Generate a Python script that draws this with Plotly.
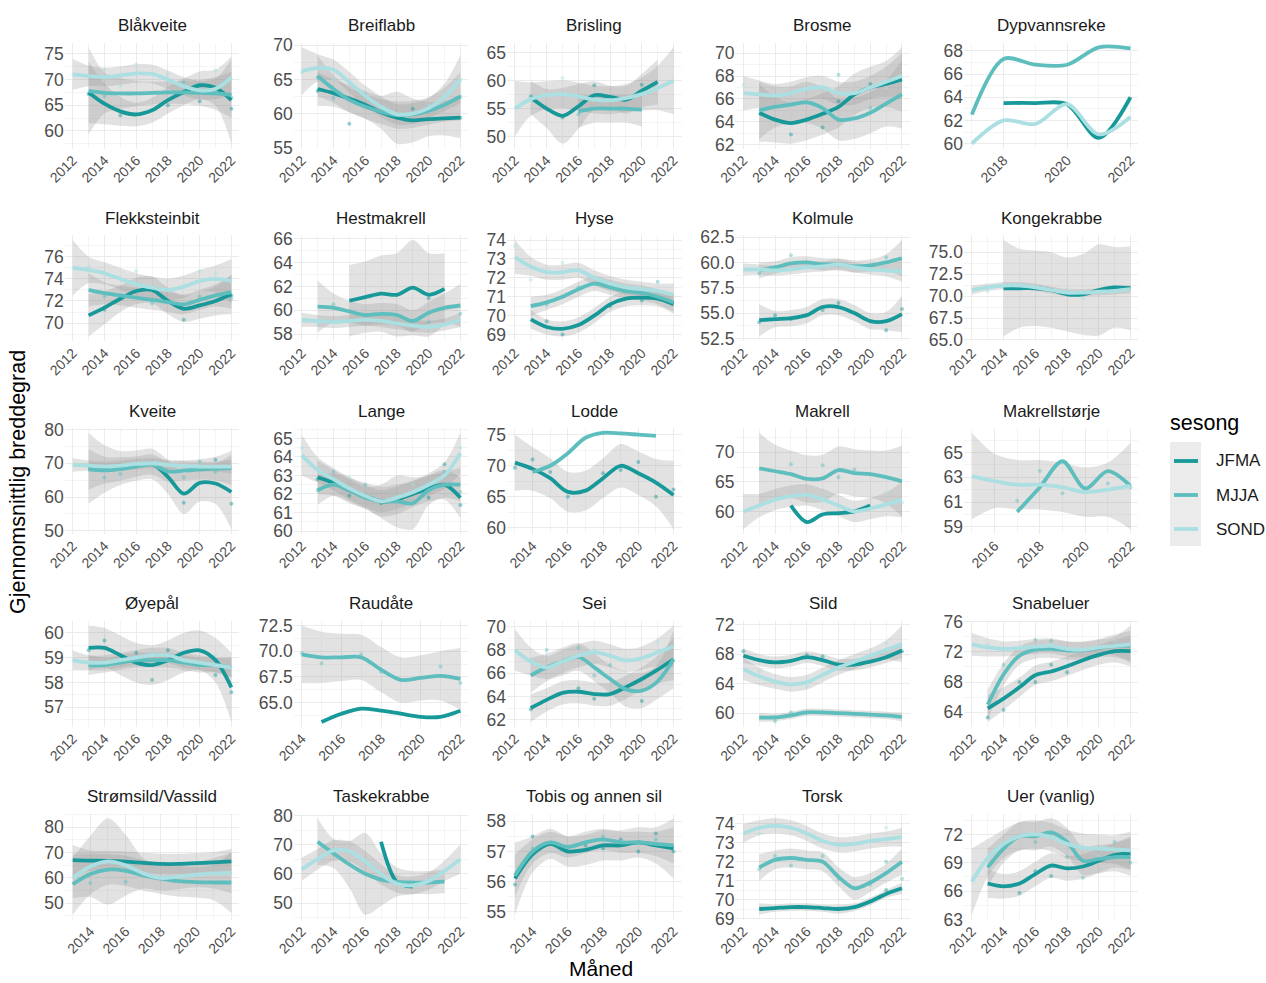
import plotly.graph_objects as go

N = None
YEARS = list(range(2012, 2023))
SEASONS = ["JFMA", "MJJA", "SOND"]
SEASON_COLORS = {"JFMA": "#17999a", "MJJA": "#5ebebe", "SOND": "#abdfe2"}

# ---- smoothed latitude (fit), half-width of confidence band (se) and yearly means (pts), 2012..2022 ----
blakveite_jfma = [N, 67.5, 65.3, 63.8, 63.2, 64.0, 66.0, 67.6, 68.9, 68.4, 66.0]
blakveite_jfma_se = [N, 6.0, 4.0, 2.8, 2.3, 2.4, 2.6, 2.6, 2.7, 3.5, 8.5]
blakveite_jfma_pts = [N, 67.2, N, 63.0, N, N, 65.0, N, 65.8, N, 64.3]
blakveite_mjja = [N, 67.8, 67.4, 67.3, 67.3, 67.4, 67.5, 67.5, 67.4, 67.3, 67.0]
blakveite_mjja_se = [N, 8.5, 4.0, 3.0, 2.5, 2.2, 2.2, 2.3, 2.5, 3.2, 4.5]
blakveite_mjja_pts = [N, N, 66.8, N, N, N, N, 69.5, N, 67.8, 66.5]
blakveite_sond = [71.0, 70.7, 70.5, 70.8, 71.2, 71.1, 70.0, 68.7, 67.9, 68.2, 70.4]
blakveite_sond_se = [3.0, 2.0, 1.8, 1.8, 1.8, 1.8, 1.8, 1.8, 1.8, 2.0, 3.5]
blakveite_sond_pts = [N, N, 72.0, 68.7, 73.0, N, 71.0, N, N, 71.8, N]

breiflabb_jfma = [N, 63.6, 63.0, 62.2, 61.3, 60.2, 59.4, 59.0, 59.2, 59.3, 59.4]
breiflabb_jfma_se = [N, 2.5, 2.0, 2.0, 2.0, 2.4, 3.8, 3.2, 2.5, 2.5, 3.0]
breiflabb_jfma_pts = [N, 63.3, N, 58.5, N, N, N, 60.7, N, N, 59.4]
breiflabb_mjja = [N, 65.5, 63.6, 62.0, 61.0, 60.3, 59.8, 59.9, 60.4, 61.3, 62.5]
breiflabb_mjja_se = [N, 3.0, 2.0, 1.8, 1.8, 1.8, 2.0, 2.0, 2.0, 2.5, 3.5]
breiflabb_mjja_pts = [N, 65.3, 62.3, N, 62.8, N, N, N, N, N, 62.5]
breiflabb_sond = [66.2, 66.7, 66.4, 64.6, 62.6, 61.0, 59.9, 60.0, 60.8, 62.4, 65.0]
breiflabb_sond_se = [3.5, 2.0, 1.5, 1.5, 1.5, 1.5, 1.5, 1.5, 1.5, 2.0, 3.5]
breiflabb_sond_pts = [66.0, N, 65.0, N, N, N, N, N, 61.3, 63.0, 65.0]

brisling_jfma = [N, 57.0, 55.0, 53.7, 55.4, 57.4, 57.1, 56.6, 58.2, 59.8, N]
brisling_jfma_se = [N, 3.0, 3.5, 5.0, 4.0, 2.5, 2.0, 2.5, 3.0, 4.0, N]
brisling_jfma_pts = [N, 57.2, N, 53.4, N, 59.2, N, N, 59.3, N, N]
brisling_mjja = [N, N, N, N, 54.5, 55.0, 55.0, 55.0, 54.8, N, N]
brisling_mjja_se = [N, N, N, N, 3.0, 2.5, 2.5, 2.5, 3.0, N, N]
brisling_mjja_pts = [N, N, N, N, 54.0, N, N, N, N, N, N]
brisling_sond = [55.0, 56.7, 57.4, 57.6, 57.2, 56.6, 56.5, 56.9, 57.6, 58.7, 60.0]
brisling_sond_se = [5.0, 3.0, 2.5, 2.5, 2.5, 2.5, 2.5, 2.5, 3.0, 4.0, 6.0]
brisling_sond_pts = [N, N, N, 60.5, N, N, N, N, N, N, N]

brosme_jfma = [N, 64.8, 64.2, 63.9, 64.2, 64.7, 65.3, 66.4, 67.0, 67.3, 67.7]
brosme_jfma_se = [N, 2.5, 2.0, 1.8, 1.8, 1.8, 1.8, 1.8, 1.8, 2.0, 2.8]
brosme_jfma_pts = [N, N, N, 62.9, N, 63.5, 65.8, N, 67.3, N, N]
brosme_mjja = [N, 65.0, 65.3, 65.5, 65.7, 65.2, 64.2, 64.3, 64.8, 65.6, 66.4]
brosme_mjja_se = [N, 2.5, 1.8, 1.6, 1.8, 1.8, 1.8, 1.8, 1.8, 2.0, 3.0]
brosme_mjja_pts = [N, N, N, N, N, N, 68.1, N, 65.2, N, N]
brosme_sond = [66.5, 66.4, 66.3, 66.5, 66.9, 67.0, 66.5, 66.5, 67.0, 67.5, 68.0]
brosme_sond_se = [1.5, 1.2, 1.0, 1.0, 1.0, 1.0, 1.0, 1.0, 1.0, 1.3, 2.0]
brosme_sond_pts = [67.2, N, N, N, N, N, N, N, N, 67.0, N]

dypvannsreke_jfma = [N, N, N, N, N, N, 63.5, 63.5, 63.4, 60.5, 64.0]
dypvannsreke_mjja = [N, N, N, N, N, 62.5, 67.3, 66.8, 66.8, 68.3, 68.2]
dypvannsreke_sond = [N, N, N, N, N, 60.0, 62.0, 61.7, 63.4, 60.8, 62.3]

flekksteinbit_jfma = [N, 70.7, 71.4, 72.2, 72.9, 73.0, 72.0, 71.3, 71.6, 72.0, 72.6]
flekksteinbit_jfma_se = [N, 1.9, 1.5, 1.2, 1.2, 1.2, 1.2, 1.2, 1.2, 1.3, 1.8]
flekksteinbit_jfma_pts = [N, N, 71.2, N, N, N, N, 70.3, N, N, 72.5]
flekksteinbit_mjja = [N, 73.0, 72.7, 72.5, 72.3, 72.1, 71.9, 71.7, 72.1, 72.5, 72.8]
flekksteinbit_mjja_se = [N, 1.5, 1.0, 0.9, 0.9, 0.9, 0.9, 0.9, 0.9, 1.0, 1.5]
flekksteinbit_mjja_pts = [N, N, 72.4, N, N, 71.8, N, N, 72.4, N, 72.2]
flekksteinbit_sond = [75.0, 74.8, 74.5, 74.0, 73.5, 73.2, 73.0, 73.3, 73.8, 74.0, 73.8]
flekksteinbit_sond_se = [2.5, 1.2, 1.0, 1.0, 1.0, 1.0, 1.0, 1.0, 1.0, 1.2, 2.0]
flekksteinbit_sond_pts = [N, 75.1, N, N, 74.7, N, N, N, 74.7, 74.5, N]

hestmakrell_jfma = [N, N, N, 60.8, 61.1, 61.4, 61.3, 61.9, 61.3, 61.8, N]
hestmakrell_jfma_se = [N, N, N, 3.0, 3.0, 3.2, 3.5, 4.0, 3.5, 3.0, N]
hestmakrell_jfma_pts = [N, N, N, N, N, N, N, N, 61.0, N, N]
hestmakrell_mjja = [N, 60.3, 60.2, 59.9, 59.6, 59.7, 59.6, 59.1, 59.8, 60.2, 60.4]
hestmakrell_mjja_se = [N, 2.2, 1.2, 0.9, 0.9, 0.9, 0.9, 0.9, 0.9, 1.2, 1.8]
hestmakrell_mjja_pts = [N, N, 60.5, N, N, N, N, N, 59.0, N, 59.7]
hestmakrell_sond = [59.2, 59.1, 59.0, 59.1, 59.2, 59.1, 58.9, 58.7, 58.6, 58.8, 59.2]
hestmakrell_sond_se = [0.6, 0.5, 0.5, 0.5, 0.5, 0.5, 0.5, 0.5, 0.5, 0.5, 0.6]
hestmakrell_sond_pts = [N, 58.8, N, N, N, N, N, N, N, N, N]

hyse_jfma = [N, 69.8, 69.4, 69.3, 69.5, 70.0, 70.6, 70.9, 70.95, 70.9, 70.6]
hyse_jfma_se = [N, 0.5, 0.4, 0.4, 0.4, 0.4, 0.4, 0.4, 0.4, 0.4, 0.5]
hyse_jfma_pts = [N, N, 69.7, 69.0, N, N, 70.5, N, 70.8, N, N]
hyse_mjja = [N, 70.5, 70.7, 71.0, 71.4, 71.7, 71.5, 71.3, 71.2, 71.0, 70.7]
hyse_mjja_se = [N, 0.5, 0.4, 0.4, 0.4, 0.4, 0.4, 0.4, 0.4, 0.4, 0.5]
hyse_mjja_pts = [N, N, 70.6, N, 71.5, N, N, N, N, 71.8, N]
hyse_sond = [73.1, 72.6, 72.3, 72.3, 72.4, 72.0, 71.7, 71.5, 71.4, 71.3, 71.1]
hyse_sond_se = [0.9, 0.5, 0.4, 0.4, 0.4, 0.4, 0.4, 0.4, 0.4, 0.4, 0.6]
hyse_sond_pts = [73.7, 71.9, N, 72.8, N, N, N, N, N, N, N]

kolmule_jfma = [N, 54.3, 54.4, 54.5, 54.8, 55.6, 55.6, 55.0, 54.2, 54.2, 54.9]
kolmule_jfma_se = [N, 1.6, 0.8, 0.8, 0.8, 0.8, 0.8, 0.8, 0.8, 0.9, 1.8]
kolmule_jfma_pts = [N, 54.1, 54.8, 54.4, N, 55.3, 56.0, N, N, 53.3, 55.4]
kolmule_mjja = [N, 59.2, 59.5, 59.9, 60.0, 59.8, 59.8, 59.6, 59.7, 60.0, 60.4]
kolmule_mjja_se = [N, 0.8, 0.6, 0.6, 0.6, 0.6, 0.6, 0.6, 0.6, 0.8, 1.8]
kolmule_mjja_pts = [N, 58.9, N, 60.7, N, N, N, N, N, 60.5, N]
kolmule_sond = [59.3, 59.3, 59.2, 59.3, 59.5, 59.6, 59.8, 59.5, 59.3, 59.2, 59.1]
kolmule_sond_se = [0.6, 0.5, 0.5, 0.5, 0.5, 0.5, 0.5, 0.5, 0.5, 0.6, 1.0]

kongekrabbe_jfma = [N, N, 70.9, 70.9, 70.9, 70.7, 70.2, 70.2, 70.7, 71.0, 70.9]
kongekrabbe_jfma_se = [N, N, 5.5, 4.5, 4.3, 4.3, 4.2, 4.6, 5.2, 4.6, 4.8]
kongekrabbe_sond = [70.7, 71.0, 71.2, 71.2, 71.0, 70.7, 70.4, 70.4, 70.5, 70.6, 70.8]
kongekrabbe_sond_se = [0.5, 0.4, 0.4, 0.4, 0.4, 0.4, 0.4, 0.4, 0.4, 0.4, 0.5]
kongekrabbe_sond_pts = [N, 70.6, N, 71.3, N, N, 70.9, 69.8, N, N, N]

kveite_jfma = [N, 68.5, 68.3, 68.6, 69.3, 69.8, 66.0, 61.0, 64.2, 64.0, 61.5]
kveite_jfma_se = [N, 10.5, 7.0, 5.0, 4.5, 4.5, 5.0, 6.0, 5.5, 6.0, 11.0]
kveite_jfma_pts = [N, N, N, N, N, N, N, 58.3, N, 71.0, 58.0]
kveite_mjja = [N, 68.2, 67.9, 68.3, 69.0, 69.6, 67.6, 67.8, 68.2, 68.4, 68.6]
kveite_mjja_se = [N, 6.0, 4.0, 3.5, 3.0, 3.0, 3.0, 3.0, 3.0, 3.5, 5.0]
kveite_mjja_pts = [N, N, 65.8, 66.8, N, N, N, 65.8, 70.5, 67.5, N]
kveite_sond = [69.5, 69.3, 69.0, 69.3, 69.8, 70.0, 69.5, 69.2, 69.0, 69.0, 69.0]
kveite_sond_se = [2.0, 1.5, 1.5, 1.5, 1.5, 1.5, 1.5, 1.5, 1.5, 1.5, 2.0]

lange_jfma = [N, 62.9, 62.6, 62.2, 61.9, 61.6, 61.7, 62.0, 62.3, 62.5, 61.8]
lange_jfma_se = [N, 0.9, 0.7, 0.7, 0.7, 0.8, 0.8, 0.7, 0.7, 0.8, 1.1]
lange_jfma_pts = [N, 62.8, N, 61.9, N, 61.5, N, N, 61.8, 63.6, 61.4]
lange_mjja = [N, 62.2, 62.5, 62.2, 61.8, 61.6, 61.6, 61.5, 62.2, 62.5, 62.5]
lange_mjja_se = [N, 0.8, 0.6, 0.6, 0.6, 0.9, 1.4, 1.4, 0.8, 0.7, 0.9]
lange_mjja_pts = [N, 62.2, 63.2, N, 62.5, N, N, N, N, 63.2, 62.1]
lange_sond = [64.1, 63.3, 62.8, 62.3, 61.9, 61.6, 61.8, 62.1, 62.5, 63.0, 64.2]
lange_sond_se = [1.1, 0.7, 0.6, 0.6, 0.6, 0.6, 0.6, 0.6, 0.6, 0.7, 1.1]
lange_sond_pts = [64.5, N, N, 62.9, N, N, N, 62.5, N, N, 64.5]

lodde_jfma = [N, 70.5, 69.5, 68.0, 65.8, 66.0, 68.0, 70.0, 68.8, 67.3, 65.3]
lodde_jfma_se = [N, 4.5, 3.5, 3.2, 3.2, 3.2, 3.2, 3.5, 3.5, 3.8, 5.5]
lodde_jfma_pts = [N, 69.7, 71.0, 69.0, 65.0, N, 68.8, 69.3, 70.6, 65.0, 66.2]
lodde_mjja = [N, N, 69.0, 70.0, 72.0, 74.5, 75.3, 75.2, 75.0, 74.8, N]

makrell_jfma = [N, N, N, 61.0, 58.2, 59.5, 59.7, 60.0, 61.0, N, N]
makrell_mjja = [N, 67.3, 66.8, 66.3, 65.5, 65.6, 67.0, 66.5, 66.3, 65.8, 65.1]
makrell_mjja_se = [N, 6.0, 4.5, 4.0, 4.0, 4.0, 4.0, 4.0, 4.0, 4.5, 6.0]
makrell_mjja_pts = [N, N, N, 68.0, N, 67.8, 65.8, 67.1, N, N, N]
makrell_sond = [60.0, 61.0, 62.0, 62.6, 62.8, 62.0, 61.0, 60.0, 60.5, 61.2, 62.0]
makrell_sond_se = [3.0, 2.0, 1.8, 1.8, 1.8, 1.8, 1.8, 1.8, 1.8, 2.0, 3.0]
makrell_sond_pts = [N, 61.0, N, N, N, 62.6, N, N, N, 63.2, 61.5]

makrellstorje_mjja = [N, N, N, N, N, 60.2, 62.2, 64.3, 62.1, 63.5, 62.3]
makrellstorje_mjja_pts = [N, N, N, N, N, 61.1, 63.5, 61.7, N, 62.5, 62.2]
makrellstorje_sond = [N, N, N, 63.1, 62.7, 62.4, 62.4, 62.2, 61.8, 62.0, 62.3]
makrellstorje_sond_se = [N, N, N, 3.5, 2.2, 2.0, 2.0, 2.0, 2.0, 2.2, 3.5]

oyepal_jfma = [N, 59.4, 59.4, 59.1, 58.8, 58.7, 58.9, 59.2, 59.3, 58.9, 57.8]
oyepal_jfma_se = [N, 0.9, 0.8, 0.8, 0.8, 0.8, 0.8, 0.8, 0.8, 0.9, 1.4]
oyepal_jfma_pts = [N, 59.3, 59.7, N, 59.2, 58.1, 59.3, N, N, 58.3, 57.6]
oyepal_mjja = [N, 58.7, 58.7, 58.8, 58.9, 58.9, 58.9, 58.8, 58.7, 58.7, 58.6]
oyepal_mjja_se = [N, 0.4, 0.3, 0.3, 0.3, 0.3, 0.3, 0.3, 0.3, 0.3, 0.4]
oyepal_sond = [58.9, 58.8, 58.8, 58.9, 59.0, 59.1, 59.1, 58.9, 58.8, 58.7, 58.6]
oyepal_sond_se = [0.4, 0.3, 0.3, 0.3, 0.3, 0.3, 0.3, 0.3, 0.3, 0.3, 0.4]
oyepal_sond_pts = [N, N, N, N, N, 59.2, N, N, N, 59.1, N]

raudate_jfma = [N, N, N, 63.1, 63.9, 64.4, 64.2, 63.9, 63.6, 63.6, 64.2]
raudate_mjja = [N, N, 69.7, 69.4, 69.4, 69.4, 68.2, 67.2, 67.4, 67.6, 67.3]
raudate_mjja_se = [N, N, 2.8, 2.5, 2.3, 2.2, 2.2, 2.2, 2.2, 2.4, 3.0]
raudate_mjja_pts = [N, N, 69.8, 68.8, N, 69.7, 68.0, N, N, 68.5, 66.9]

sei_jfma = [N, 63.0, 63.7, 64.3, 64.4, 64.2, 64.2, 64.8, 65.5, 66.3, 67.2]
sei_jfma_se = [N, 1.2, 1.0, 1.0, 1.0, 1.0, 1.0, 1.0, 1.0, 1.2, 1.8]
sei_jfma_pts = [N, 62.9, N, N, 64.7, 63.8, N, N, 63.6, N, N]
sei_mjja = [N, 65.8, 66.5, 67.0, 67.4, 66.5, 65.5, 64.6, 64.5, 65.3, 67.2]
sei_mjja_se = [N, 1.5, 1.2, 1.2, 1.2, 1.2, 1.2, 1.5, 1.5, 1.5, 2.5]
sei_mjja_pts = [N, N, 68.0, N, 68.2, 65.8, 66.7, N, N, N, N]
sei_sond = [68.0, 67.0, 66.5, 67.0, 67.5, 67.8, 67.5, 67.1, 67.3, 67.8, 68.3]
sei_sond_se = [1.8, 1.2, 1.0, 1.0, 1.0, 1.0, 1.0, 1.0, 1.0, 1.2, 1.8]
sei_sond_pts = [N, 67.2, N, N, N, 68.0, N, N, N, 68.7, N]

sild_jfma = [67.8, 67.2, 66.9, 67.1, 67.6, 67.2, 66.6, 66.6, 67.0, 67.6, 68.5]
sild_jfma_se = [1.0, 0.8, 0.8, 0.8, 0.8, 0.8, 0.8, 0.8, 0.8, 0.8, 1.0]
sild_jfma_pts = [68.4, N, N, N, 67.9, 67.7, N, N, N, N, 68.4]
sild_mjja = [N, 59.4, 59.4, 59.7, 60.1, 60.1, 60.0, 59.9, 59.8, 59.7, 59.5]
sild_mjja_se = [N, 0.6, 0.5, 0.5, 0.5, 0.5, 0.5, 0.5, 0.5, 0.5, 0.6]
sild_mjja_pts = [N, N, 58.9, 60.1, N, N, N, N, N, N, N]
sild_sond = [66.0, 65.0, 64.3, 63.9, 64.2, 65.2, 66.2, 67.0, 67.8, 68.6, 69.4]
sild_sond_se = [1.5, 1.2, 1.0, 1.0, 1.0, 1.0, 1.0, 1.0, 1.0, 1.3, 2.5]
sild_sond_pts = [N, 65.7, N, N, 63.6, N, N, N, N, 69.5, N]

snabeluer_jfma = [N, 64.5, 65.8, 67.3, 68.9, 69.4, 70.1, 70.9, 71.6, 72.1, 72.1]
snabeluer_jfma_se = [N, 1.8, 1.5, 1.3, 1.3, 1.3, 1.3, 1.3, 1.3, 1.5, 2.0]
snabeluer_jfma_pts = [N, 63.3, 64.3, 68.0, 68.0, 70.3, 69.3, N, N, N, N]
snabeluer_mjja = [N, 65.0, 69.0, 71.5, 72.3, 72.4, 72.2, 72.2, 72.5, 72.8, 72.8]
snabeluer_mjja_se = [N, 2.0, 1.5, 1.2, 1.2, 1.2, 1.2, 1.2, 1.2, 1.5, 2.0]
snabeluer_mjja_pts = [N, N, 70.3, N, 73.6, 73.5, N, N, N, N, N]
snabeluer_sond = [73.0, 72.6, 72.4, 72.5, 72.7, 72.8, 72.4, 72.3, 72.6, 72.8, 73.0]
snabeluer_sond_se = [1.5, 1.2, 1.0, 1.0, 1.0, 1.0, 1.0, 1.0, 1.0, 1.2, 2.5]
snabeluer_sond_pts = [N, 73.0, N, N, N, N, N, N, N, 73.5, N]

stromsild_jfma = [N, 67.0, 66.8, 66.7, 66.4, 65.9, 65.5, 65.5, 65.8, 66.1, 66.5]
stromsild_jfma_se = [N, 6.0, 4.0, 4.0, 4.0, 4.0, 4.0, 4.0, 4.0, 4.0, 5.0]
stromsild_mjja = [N, 57.5, 61.5, 63.3, 62.8, 61.0, 59.7, 58.7, 58.3, 58.2, 58.2]
stromsild_mjja_se = [N, 12.0, 8.0, 6.0, 6.0, 6.0, 6.0, 6.0, 6.0, 7.0, 12.0]
stromsild_mjja_pts = [N, N, 58.0, N, 58.5, N, N, N, N, N, N]
stromsild_sond = [N, 60.0, 64.5, 66.5, 65.0, 61.8, 60.0, 60.5, 61.3, 61.8, 62.0]
stromsild_sond_se = [N, 8.0, 12.0, 17.0, 12.0, 6.0, 5.0, 5.0, 5.0, 6.0, 8.0]

taskekrabbe_jfma = [N, N, N, N, N, 71.0, 57.2, 55.6, N, N, N]
taskekrabbe_mjja = [N, 71.0, 67.0, 63.2, 60.0, 58.0, 57.2, 57.0, 57.0, 57.3, N]
taskekrabbe_mjja_se = [N, 8.0, 5.0, 8.0, 14.0, 9.0, 5.0, 4.0, 4.0, 4.0, N]
taskekrabbe_sond = [61.5, 65.0, 68.0, 67.7, 64.3, 59.8, 56.6, 56.0, 57.5, 61.0, 65.0]
taskekrabbe_sond_se = [4.0, 3.5, 3.5, 3.5, 3.5, 3.5, 3.0, 3.0, 3.0, 3.5, 5.0]

tobis_jfma = [N, 56.1, 56.9, 57.25, 57.0, 57.05, 57.2, 57.2, 57.3, 57.2, 57.1]
tobis_jfma_se = [N, 1.2, 0.6, 0.5, 0.5, 0.5, 0.5, 0.5, 0.5, 0.6, 1.0]
tobis_jfma_pts = [N, 55.9, 57.5, N, 57.0, 57.2, 57.1, 57.4, 57.0, 57.6, 57.0]
tobis_mjja = [N, 56.2, 57.0, 57.3, 57.15, 57.3, 57.4, 57.3, 57.3, 57.25, 57.2]
tobis_mjja_se = [N, 0.7, 0.4, 0.35, 0.35, 0.35, 0.35, 0.35, 0.35, 0.4, 0.6]
tobis_mjja_pts = [N, N, 57.1, N, N, N, 57.5, N, N, 57.4, N]

torsk_jfma = [N, 69.5, 69.55, 69.6, 69.6, 69.55, 69.5, 69.6, 69.9, 70.3, 70.6]
torsk_jfma_se = [N, 0.3, 0.2, 0.2, 0.2, 0.2, 0.25, 0.2, 0.2, 0.2, 0.3]
torsk_jfma_pts = [N, N, N, N, N, N, N, N, N, 70.5, N]
torsk_mjja = [N, 71.7, 72.1, 72.2, 72.1, 72.0, 71.2, 70.6, 70.9, 71.4, 72.0]
torsk_mjja_se = [N, 0.7, 0.5, 0.5, 0.5, 0.5, 0.5, 0.6, 0.5, 0.5, 0.7]
torsk_mjja_pts = [N, 71.6, 72.3, 71.8, N, 72.3, 71.1, N, 70.8, 72.0, 71.1]
torsk_sond = [73.5, 73.8, 73.9, 73.8, 73.5, 73.1, 72.9, 72.95, 73.1, 73.2, 73.3]
torsk_sond_se = [0.5, 0.4, 0.4, 0.4, 0.4, 0.4, 0.4, 0.4, 0.4, 0.4, 0.5]
torsk_sond_pts = [N, 73.5, N, N, N, N, N, N, N, 73.8, N]

uer_jfma = [N, 66.8, 66.5, 66.8, 67.8, 68.7, 68.4, 68.6, 69.2, 69.8, 70.0]
uer_jfma_se = [N, 1.5, 1.3, 1.3, 1.3, 1.3, 1.3, 1.3, 1.3, 1.3, 1.8]
uer_jfma_pts = [N, N, N, 65.8, 68.1, 67.6, N, N, N, N, N]
uer_mjja = [N, 68.5, 70.5, 71.8, 71.8, 72.2, 71.2, 69.2, 69.4, 69.6, 69.6]
uer_mjja_se = [N, 2.0, 1.5, 1.5, 1.5, 1.5, 1.5, 1.5, 1.5, 1.5, 2.0]
uer_mjja_pts = [N, N, N, N, 71.2, 72.1, 69.6, 67.4, N, 71.2, 69.0]
uer_sond = [67.0, 69.5, 71.0, 71.8, 72.0, 71.7, 71.0, 70.6, 70.5, 70.4, 70.3]
uer_sond_se = [3.5, 2.0, 1.5, 1.5, 1.5, 1.5, 1.5, 1.5, 1.5, 1.5, 2.0]
uer_sond_pts = [N, N, N, N, N, N, 71.6, N, 69.7, N, N]

# species titles and the y tick step used by each facet
SPECIES = ["Blåkveite", "Breiflabb", "Brisling", "Brosme", "Dypvannsreke",
           "Flekksteinbit", "Hestmakrell", "Hyse", "Kolmule", "Kongekrabbe",
           "Kveite", "Lange", "Lodde", "Makrell", "Makrellstørje",
           "Øyepål", "Raudåte", "Sei", "Sild", "Snabeluer",
           "Strømsild/Vassild", "Taskekrabbe", "Tobis og annen sil", "Torsk", "Uer (vanlig)"]
Y_STEP = [5, 5, 5, 2, 2,
          2, 2, 1, 2.5, 2.5,
          10, 1, 5, 5, 2,
          1, 2.5, 2, 4, 4,
          10, 10, 1, 1, 3]
Y_TICK0 = [0, 0, 0, 0, 0,
           0, 0, 0, 0, 0,
           0, 0, 0, 0, 1,
           0, 0, 0, 0, 0,
           0, 0, 0, 0, 0]


def S(fit, se=None, pts=None):
    return {"fit": fit, "se": se, "pts": pts}


SERIES = [
    {"JFMA": S(blakveite_jfma, blakveite_jfma_se, blakveite_jfma_pts),
     "MJJA": S(blakveite_mjja, blakveite_mjja_se, blakveite_mjja_pts),
     "SOND": S(blakveite_sond, blakveite_sond_se, blakveite_sond_pts)},
    {"JFMA": S(breiflabb_jfma, breiflabb_jfma_se, breiflabb_jfma_pts),
     "MJJA": S(breiflabb_mjja, breiflabb_mjja_se, breiflabb_mjja_pts),
     "SOND": S(breiflabb_sond, breiflabb_sond_se, breiflabb_sond_pts)},
    {"JFMA": S(brisling_jfma, brisling_jfma_se, brisling_jfma_pts),
     "MJJA": S(brisling_mjja, brisling_mjja_se, brisling_mjja_pts),
     "SOND": S(brisling_sond, brisling_sond_se, brisling_sond_pts)},
    {"JFMA": S(brosme_jfma, brosme_jfma_se, brosme_jfma_pts),
     "MJJA": S(brosme_mjja, brosme_mjja_se, brosme_mjja_pts),
     "SOND": S(brosme_sond, brosme_sond_se, brosme_sond_pts)},
    {"JFMA": S(dypvannsreke_jfma), "MJJA": S(dypvannsreke_mjja), "SOND": S(dypvannsreke_sond)},
    {"JFMA": S(flekksteinbit_jfma, flekksteinbit_jfma_se, flekksteinbit_jfma_pts),
     "MJJA": S(flekksteinbit_mjja, flekksteinbit_mjja_se, flekksteinbit_mjja_pts),
     "SOND": S(flekksteinbit_sond, flekksteinbit_sond_se, flekksteinbit_sond_pts)},
    {"JFMA": S(hestmakrell_jfma, hestmakrell_jfma_se, hestmakrell_jfma_pts),
     "MJJA": S(hestmakrell_mjja, hestmakrell_mjja_se, hestmakrell_mjja_pts),
     "SOND": S(hestmakrell_sond, hestmakrell_sond_se, hestmakrell_sond_pts)},
    {"JFMA": S(hyse_jfma, hyse_jfma_se, hyse_jfma_pts),
     "MJJA": S(hyse_mjja, hyse_mjja_se, hyse_mjja_pts),
     "SOND": S(hyse_sond, hyse_sond_se, hyse_sond_pts)},
    {"JFMA": S(kolmule_jfma, kolmule_jfma_se, kolmule_jfma_pts),
     "MJJA": S(kolmule_mjja, kolmule_mjja_se, kolmule_mjja_pts),
     "SOND": S(kolmule_sond, kolmule_sond_se)},
    {"JFMA": S(kongekrabbe_jfma, kongekrabbe_jfma_se),
     "SOND": S(kongekrabbe_sond, kongekrabbe_sond_se, kongekrabbe_sond_pts)},
    {"JFMA": S(kveite_jfma, kveite_jfma_se, kveite_jfma_pts),
     "MJJA": S(kveite_mjja, kveite_mjja_se, kveite_mjja_pts),
     "SOND": S(kveite_sond, kveite_sond_se)},
    {"JFMA": S(lange_jfma, lange_jfma_se, lange_jfma_pts),
     "MJJA": S(lange_mjja, lange_mjja_se, lange_mjja_pts),
     "SOND": S(lange_sond, lange_sond_se, lange_sond_pts)},
    {"JFMA": S(lodde_jfma, lodde_jfma_se, lodde_jfma_pts), "MJJA": S(lodde_mjja)},
    {"JFMA": S(makrell_jfma),
     "MJJA": S(makrell_mjja, makrell_mjja_se, makrell_mjja_pts),
     "SOND": S(makrell_sond, makrell_sond_se, makrell_sond_pts)},
    {"MJJA": S(makrellstorje_mjja, None, makrellstorje_mjja_pts),
     "SOND": S(makrellstorje_sond, makrellstorje_sond_se)},
    {"JFMA": S(oyepal_jfma, oyepal_jfma_se, oyepal_jfma_pts),
     "MJJA": S(oyepal_mjja, oyepal_mjja_se),
     "SOND": S(oyepal_sond, oyepal_sond_se, oyepal_sond_pts)},
    {"JFMA": S(raudate_jfma), "MJJA": S(raudate_mjja, raudate_mjja_se, raudate_mjja_pts)},
    {"JFMA": S(sei_jfma, sei_jfma_se, sei_jfma_pts),
     "MJJA": S(sei_mjja, sei_mjja_se, sei_mjja_pts),
     "SOND": S(sei_sond, sei_sond_se, sei_sond_pts)},
    {"JFMA": S(sild_jfma, sild_jfma_se, sild_jfma_pts),
     "MJJA": S(sild_mjja, sild_mjja_se, sild_mjja_pts),
     "SOND": S(sild_sond, sild_sond_se, sild_sond_pts)},
    {"JFMA": S(snabeluer_jfma, snabeluer_jfma_se, snabeluer_jfma_pts),
     "MJJA": S(snabeluer_mjja, snabeluer_mjja_se, snabeluer_mjja_pts),
     "SOND": S(snabeluer_sond, snabeluer_sond_se, snabeluer_sond_pts)},
    {"JFMA": S(stromsild_jfma, stromsild_jfma_se),
     "MJJA": S(stromsild_mjja, stromsild_mjja_se, stromsild_mjja_pts),
     "SOND": S(stromsild_sond, stromsild_sond_se)},
    {"JFMA": S(taskekrabbe_jfma),
     "MJJA": S(taskekrabbe_mjja, taskekrabbe_mjja_se),
     "SOND": S(taskekrabbe_sond, taskekrabbe_sond_se)},
    {"JFMA": S(tobis_jfma, tobis_jfma_se, tobis_jfma_pts),
     "MJJA": S(tobis_mjja, tobis_mjja_se, tobis_mjja_pts)},
    {"JFMA": S(torsk_jfma, torsk_jfma_se, torsk_jfma_pts),
     "MJJA": S(torsk_mjja, torsk_mjja_se, torsk_mjja_pts),
     "SOND": S(torsk_sond, torsk_sond_se, torsk_sond_pts)},
    {"JFMA": S(uer_jfma, uer_jfma_se, uer_jfma_pts),
     "MJJA": S(uer_mjja, uer_mjja_se, uer_mjja_pts),
     "SOND": S(uer_sond, uer_sond_se, uer_sond_pts)},
]

# ---- page geometry (pixels) ----
W, H = 1266, 983
COL_LEFT = [64.8, 293.8, 507.0, 735.4, 963.9]
PANEL_W = 174.5
TITLE_Y0 = 25.7
ROW_PITCH = 192.75
TITLE_GAP = 16.8
PANEL_H = 106

FONT = "Liberation Sans, Arial, sans-serif"
GRID = "#ebebeb"
GRID_MINOR = "#f4f4f4"
TEXT_GREY = "#4d4d4d"
RIBBON = "rgba(150,150,150,0.28)"


def px_x(v):
    return v / W


def px_y(v):
    return 1 - v / H


def present(arr):
    return [(y, v) for y, v in zip(YEARS, arr) if v is not None]


fig = go.Figure()
annotations = []

for i, (name, series) in enumerate(zip(SPECIES, SERIES)):
    r, c = divmod(i, 5)
    k = i + 1
    xa = "x" if k == 1 else f"x{k}"
    ya = "y" if k == 1 else f"y{k}"

    xs_all, ys_all = [], []
    # confidence ribbons
    for s in SEASONS:
        if s not in series or series[s]["se"] is None:
            continue
        fit, se = series[s]["fit"], series[s]["se"]
        yrs = [y for y, f, e in zip(YEARS, fit, se) if f is not None and e is not None]
        lo = [f - e for f, e in zip(fit, se) if f is not None and e is not None]
        hi = [f + e for f, e in zip(fit, se) if f is not None and e is not None]
        xs_all += yrs
        ys_all += lo + hi
        fig.add_trace(go.Scatter(x=yrs, y=lo, xaxis=xa, yaxis=ya, mode="lines",
                                 line=dict(width=0, shape="spline", smoothing=0.9),
                                 hoverinfo="skip", showlegend=False))
        fig.add_trace(go.Scatter(x=yrs, y=hi, xaxis=xa, yaxis=ya, mode="lines",
                                 line=dict(width=0, shape="spline", smoothing=0.9),
                                 fill="tonexty", fillcolor=RIBBON,
                                 hoverinfo="skip", showlegend=False))
    # yearly means
    for s in SEASONS:
        if s not in series or series[s]["pts"] is None:
            continue
        p = present(series[s]["pts"])
        xs_all += [a for a, _ in p]
        ys_all += [b for _, b in p]
        fig.add_trace(go.Scatter(x=[a for a, _ in p], y=[b for _, b in p], xaxis=xa, yaxis=ya,
                                 mode="markers",
                                 marker=dict(size=4, color=SEASON_COLORS[s], opacity=0.45),
                                 hoverinfo="skip", showlegend=False))
    # smoothed lines
    for s in SEASONS:
        if s not in series:
            continue
        p = present(series[s]["fit"])
        xs_all += [a for a, _ in p]
        ys_all += [b for _, b in p]
        fig.add_trace(go.Scatter(x=[a for a, _ in p], y=[b for _, b in p], xaxis=xa, yaxis=ya,
                                 mode="lines", name=s,
                                 line=dict(width=3.8, color=SEASON_COLORS[s],
                                           shape="spline", smoothing=0.9),
                                 showlegend=False))

    x0, x1 = min(xs_all), max(xs_all)
    y0, y1 = min(ys_all), max(ys_all)
    xpad, ypad = (x1 - x0) * 0.05, (y1 - y0) * 0.05
    step = Y_STEP[i]

    left = COL_LEFT[c]
    title_y = TITLE_Y0 + r * ROW_PITCH
    top = title_y + TITLE_GAP
    fig.layout[f"xaxis{'' if k == 1 else k}"] = dict(
        domain=[px_x(left), px_x(left + PANEL_W)], anchor=ya, automargin=False,
        range=[x0 - xpad, x1 + xpad], tick0=2012, dtick=2, tickangle=-45,
        showgrid=True, gridcolor=GRID, gridwidth=1.1, zeroline=False, showline=False,
        ticks="", tickfont=dict(family=FONT, size=14, color=TEXT_GREY),
        minor=dict(dtick=1, tick0=2012, showgrid=True, gridcolor=GRID_MINOR, gridwidth=0.7),
        fixedrange=True)
    fig.layout[f"yaxis{'' if k == 1 else k}"] = dict(
        domain=[px_y(top + PANEL_H), px_y(top)], anchor=xa, automargin=False,
        range=[y0 - ypad, y1 + ypad], tick0=Y_TICK0[i], dtick=step,
        tickformat=".1f" if step != int(step) else "d",
        showgrid=True, gridcolor=GRID, gridwidth=1.1, zeroline=False, showline=False,
        ticks="", tickfont=dict(family=FONT, size=17.5, color=TEXT_GREY),
        minor=dict(dtick=step / 2, tick0=Y_TICK0[i], showgrid=True,
                   gridcolor=GRID_MINOR, gridwidth=0.7),
        fixedrange=True)
    annotations.append(dict(text=name, x=px_x(left + PANEL_W / 2), y=px_y(title_y),
                            xref="paper", yref="paper", showarrow=False,
                            xanchor="center", yanchor="middle",
                            font=dict(family=FONT, size=17, color="#1a1a1a")))

# axis titles
annotations.append(dict(text="Måned", x=px_x(601), y=px_y(982), xref="paper", yref="paper",
                        showarrow=False, xanchor="center", yanchor="bottom",
                        font=dict(family=FONT, size=21, color="#000000")))
annotations.append(dict(text="Gjennomsnittlig breddegrad", x=px_x(18), y=px_y(482),
                        xref="paper", yref="paper", showarrow=False, textangle=-90,
                        xanchor="center", yanchor="middle",
                        font=dict(family=FONT, size=21.5, color="#000000")))

# legend drawn by hand: title, grey key panel, coloured key lines and labels
shapes = []
annotations.append(dict(text="sesong", x=px_x(1168), y=px_y(423), xref="paper", yref="paper",
                        showarrow=False, xanchor="left", yanchor="middle",
                        font=dict(family=FONT, size=21.5, color="#000000")))
shapes.append(dict(type="rect", xref="paper", yref="paper",
                   x0=px_x(1170), x1=px_x(1201), y0=px_y(546), y1=px_y(442),
                   fillcolor="#ebebeb", line=dict(width=0), layer="below"))
for j, s in enumerate(SEASONS):
    yy = 461 + j * 34
    shapes.append(dict(type="line", xref="paper", yref="paper",
                       x0=px_x(1174), x1=px_x(1198), y0=px_y(yy), y1=px_y(yy),
                       line=dict(color=SEASON_COLORS[s], width=3.8)))
    annotations.append(dict(text=s, x=px_x(1214), y=px_y(yy), xref="paper", yref="paper",
                            showarrow=False, xanchor="left", yanchor="middle",
                            font=dict(family=FONT, size=17, color="#1a1a1a")))

fig.update_layout(template="none", width=W, height=H, autosize=False,
                  margin=dict(l=0, r=0, t=0, b=0, pad=0),
                  paper_bgcolor="white", plot_bgcolor="white",
                  annotations=annotations, shapes=shapes, showlegend=False,
                  font=dict(family=FONT))

fig.write_html("out.html")
